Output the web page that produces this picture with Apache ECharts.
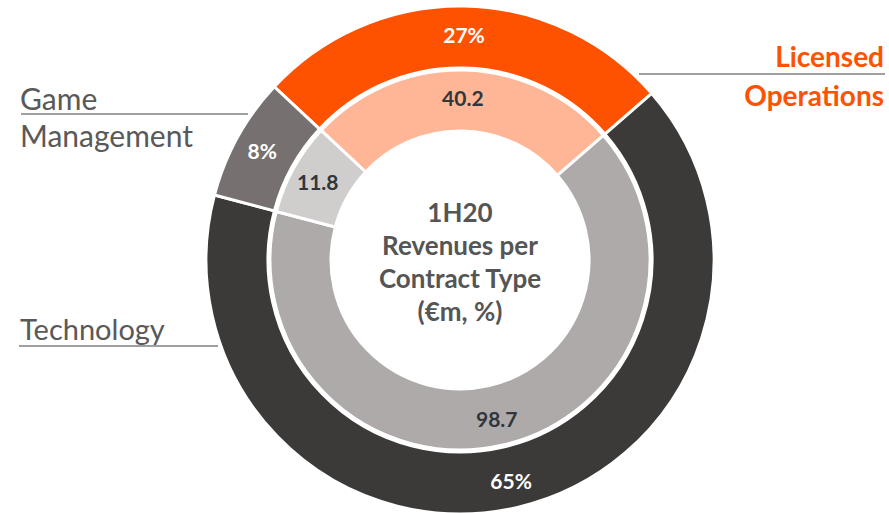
<!DOCTYPE html>
<html>
<head>
<meta charset="utf-8">
<script src="https://cdn.jsdelivr.net/npm/echarts@6/dist/echarts.min.js"></script>
<style>
html,body{margin:0;padding:0;background:#fff;}
#chart{width:889px;height:513px;}
</style>
</head>
<body>
<div id="chart"></div>
<script>
// Data
const categories = ['Licensed Operations', 'Technology', 'Game Management'];
const revenues = [40.2, 98.7, 11.8];     // €m, inner ring
const shares = [27, 65, 8];              // %, outer ring labels
const centerTitle = ['1H20', 'Revenues per', 'Contract Type', '(€m, %)'];

const outerColors = ['#FF5200', '#3C3A39', '#767170'];
const innerColors = ['#FFB697', '#AEAAAA', '#D0CDCD'];

const FONT = 'Lato, "Open Sans", sans-serif';

const chart = echarts.init(document.getElementById('chart'), null, {renderer: 'svg'});

const outerData = categories.map((c, i) => ({
  name: c, value: revenues[i], share: shares[i],
  itemStyle: {color: outerColors[i]}
}));
const innerData = categories.map((c, i) => ({
  name: c, value: revenues[i],
  itemStyle: {color: innerColors[i]}
}));

chart.setOption({
  animation: false,
  series: [
    {
      type: 'pie',
      silent: true,
      center: [460, 260],
      radius: [192, 254],
      startAngle: 137,
      clockwise: true,
      itemStyle: {borderColor: '#fff', borderWidth: 3},
      label: {
        position: 'inside',
        color: '#fff',
        fontFamily: FONT,
        fontWeight: 'bold',
        fontSize: 21,
        formatter: p => p.data.share + '%'
      },
      labelLine: {show: false},
      data: outerData
    },
    {
      type: 'pie',
      silent: true,
      center: [460, 260],
      radius: [129, 190],
      startAngle: 137,
      clockwise: true,
      itemStyle: {borderColor: '#fff', borderWidth: 3},
      label: {
        position: 'inside',
        color: '#30363B',
        fontFamily: FONT,
        fontWeight: 'bold',
        fontSize: 21,
        formatter: p => p.value.toFixed(1)
      },
      labelLine: {show: false},
      data: innerData
    }
  ],
  graphic: [
    {
      type: 'text',
      style: {
        text: centerTitle.join('\n'),
        x: 460, y: 261, align: 'center', verticalAlign: 'middle',
        font: 'bold 26px ' + FONT, fill: '#555555', lineHeight: 33
      }
    },
    {type: 'line', shape: {x1: 639, y1: 74, x2: 885, y2: 74}, style: {stroke: '#7F7F7F', lineWidth: 1.5}},
    {type: 'text', style: {text: 'Licensed', x: 884, y: 56, align: 'right', verticalAlign: 'middle', font: 'bold 28px ' + FONT, fill: '#FF5200'}},
    {type: 'text', style: {text: 'Operations', x: 884, y: 95, align: 'right', verticalAlign: 'middle', font: 'bold 28px ' + FONT, fill: '#FF5200'}},
    {type: 'line', shape: {x1: 21, y1: 114, x2: 248, y2: 114}, style: {stroke: '#7F7F7F', lineWidth: 1.5}},
    {type: 'text', style: {text: 'Game', x: 20, y: 98, align: 'left', verticalAlign: 'middle', font: '30px ' + FONT, fill: '#595959'}},
    {type: 'text', style: {text: 'Management', x: 20, y: 135, align: 'left', verticalAlign: 'middle', font: '30px ' + FONT, fill: '#595959'}},
    {type: 'line', shape: {x1: 19, y1: 346, x2: 218, y2: 346}, style: {stroke: '#7F7F7F', lineWidth: 1.5}},
    {type: 'text', style: {text: 'Technology', x: 20, y: 328, align: 'left', verticalAlign: 'middle', font: '29px ' + FONT, fill: '#595959'}}
  ]
});
</script>
</body>
</html>
